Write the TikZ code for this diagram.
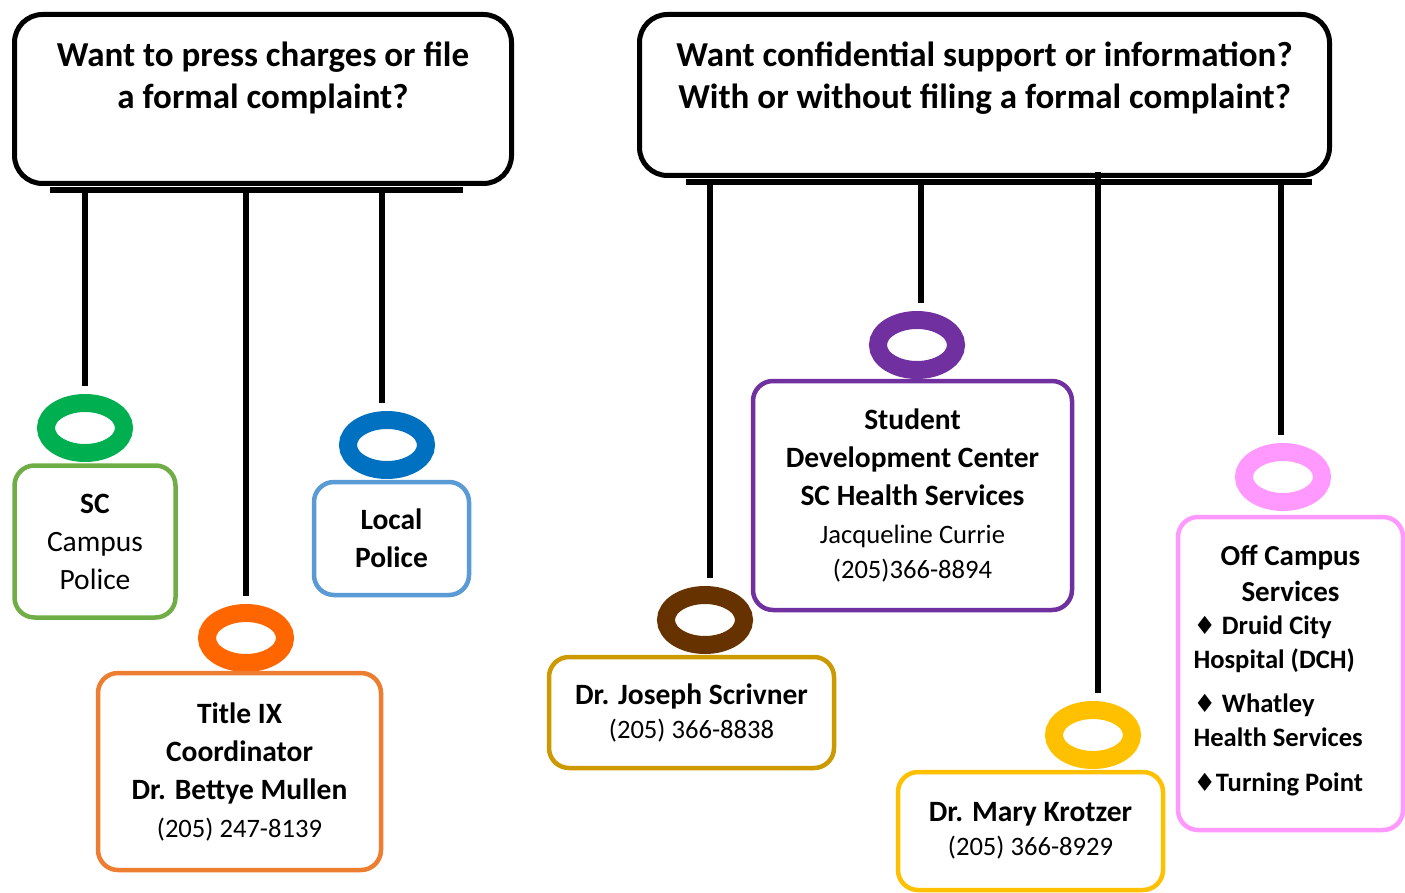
\documentclass[tikz,border=0pt]{standalone}
\usepackage{fontspec}
\setmainfont{Carlito}
\newfontfamily\symfont{DejaVu Sans}
\usetikzlibrary{positioning,shapes.geometric}

\definecolor{scgreen}{HTML}{70AD47}
\definecolor{ringgreen}{HTML}{00B050}
\definecolor{lpblue}{HTML}{5B9BD5}
\definecolor{ringblue}{HTML}{0070C0}
\definecolor{txorange}{HTML}{ED7D31}
\definecolor{ringorange}{HTML}{FF6600}
\definecolor{sdcpurple}{HTML}{7030A0}
\definecolor{ringbrown}{HTML}{663300}
\definecolor{jsgold}{HTML}{CC9900}
\definecolor{mkyellow}{HTML}{FFC000}
\definecolor{ocpink}{HTML}{FF99FF}

\newcommand{\phone}{\fontsize{26.6}{38}\selectfont}
\newcommand{\dmd}{{\symfont\fontsize{25}{38}\selectfont ♦}}

\begin{document}
\begin{tikzpicture}[x=1pt, y=-1pt,
    % Question boxes
    question/.style={draw=black, line width=5pt, rounded corners=28pt, fill=white},
    qtext/.style={font=\fontsize{35}{42}\selectfont\bfseries, align=center},
    % Bars and hanging lines
    bar/.style={line width=6pt},
    drop/.style={line width=5.5pt, shorten >=8pt},
    % Rings and office boxes
    ring/.style={ellipse, draw=#1, line width=18pt, minimum width=78pt, minimum height=50pt, inner sep=0pt},
    office/.style={draw=#1, line width=4.5pt, rounded corners=20pt, fill=white, align=center, inner sep=0pt, font=\fontsize{29.5}{38}\selectfont},
]

\useasboundingbox (0,0) rectangle (1405,893);

% Question boxes
\node[question, minimum width=497pt, minimum height=169pt] (askL) at (263,99) {};
\node[qtext] (askLtext) at (263,78) {Want to press charges or file\\a formal complaint?};
\node[question, minimum width=690pt, minimum height=161pt] (askR) at (984.5,95) {};
\node[qtext] (askRtext) at (984.5,78) {Want confidential support or information?\\With or without filing a formal complaint?};

% Left offices
\node[ring=ringgreen] (ringSC) at (85,428) {};
\node[office=scgreen, minimum width=161pt, minimum height=152pt] (sc) at (95,541.5)
    {\textbf{SC}\\Campus\\Police};
\node[ring=ringblue] (ringLP) at (387,445) {};
\node[office=lpblue, minimum width=155pt, minimum height=113pt] (lp) at (391.5,538.5)
    {\textbf{Local}\\\textbf{Police}};
\node[ring=ringorange] (ringTX) at (246,638) {};
\node[office=txorange, minimum width=283pt, minimum height=197pt] (tx) at (239.5,771.5)
    {\textbf{Title IX}\\\textbf{Coordinator}\\\textbf{Dr. Bettye Mullen}\\{\phone (205) 247-8139}};

% Right offices
\node[ring=sdcpurple] (ringSDC) at (917,345) {};
\node[office=sdcpurple, minimum width=319pt, minimum height=229pt] (sdc) at (912.5,495.5)
    {\textbf{Student}\\\textbf{Development Center}\\\textbf{SC Health Services}\\{\phone Jacqueline Currie}\\[-3pt]{\phone (205)366-8894}};
\node[ring=ringbrown] (ringJS) at (705,620) {};
\node[office=jsgold, minimum width=285pt, minimum height=111pt, font=\fontsize{29.5}{34}\selectfont] (js) at (691.5,712.5)
    {\textbf{Dr. Joseph Scrivner}\\{\phone (205) 366-8838}};
\node[ring=mkyellow] (ringMK) at (1093,735) {};
\node[office=mkyellow, minimum width=265pt, minimum height=118pt, font=\fontsize{29.5}{34}\selectfont] (mk) at (1030.5,831)
    {\textbf{Dr. Mary Krotzer}\\{\phone (205) 366-8929}};
\node[ring=ocpink] (ringOC) at (1283,477) {};
\node[office=ocpink, minimum width=225pt, minimum height=313pt, align=left, font=\fontsize{29}{36}\selectfont\bfseries] (oc) at (1290.5,673.5)
    {\makebox[194pt]{Off Campus}\\\makebox[194pt]{Services}\\[-3pt]
     {\phone\dmd\ Druid City}\\[-2pt]{\phone Hospital (DCH)}\\[8pt]
     {\phone\dmd\ Whatley}\\[-2pt]{\phone Health Services}\\[9pt]
     {\phone\dmd Turning Point}\\[-26pt]\mbox{}};

% Left bar and hanging lines
\coordinate (barL1) at (50,190);
\coordinate (barL2) at (463,190);
\draw[bar] (barL1) -- (barL2);
\coordinate (dropSC) at (85,190);
\coordinate (dropTX) at (246,190);
\coordinate (dropLP) at (382,190);
\draw[drop] (dropSC) -- (dropSC |- ringSC.north);
\draw[drop] (dropTX) -- (dropTX |- ringTX.north);
\draw[drop] (dropLP) -- (dropLP |- ringLP.north);

% Right bar and hanging lines
\coordinate (barR1) at (686,182.5);
\coordinate (barR2) at (1312,182.5);
\draw[bar] (barR1) -- (barR2);
\coordinate (dropJS) at (710,182.5);
\coordinate (dropSDC) at (921,182.5);
\coordinate (dropMK) at (1098,172);
\coordinate (dropOC) at (1281,182.5);
\draw[drop] (dropJS) -- (dropJS |- ringJS.north);
\draw[drop] (dropSDC) -- (dropSDC |- ringSDC.north);
\draw[drop] (dropMK) -- (dropMK |- ringMK.north);
\draw[drop] (dropOC) -- (dropOC |- ringOC.north);

\end{tikzpicture}
\end{document}
